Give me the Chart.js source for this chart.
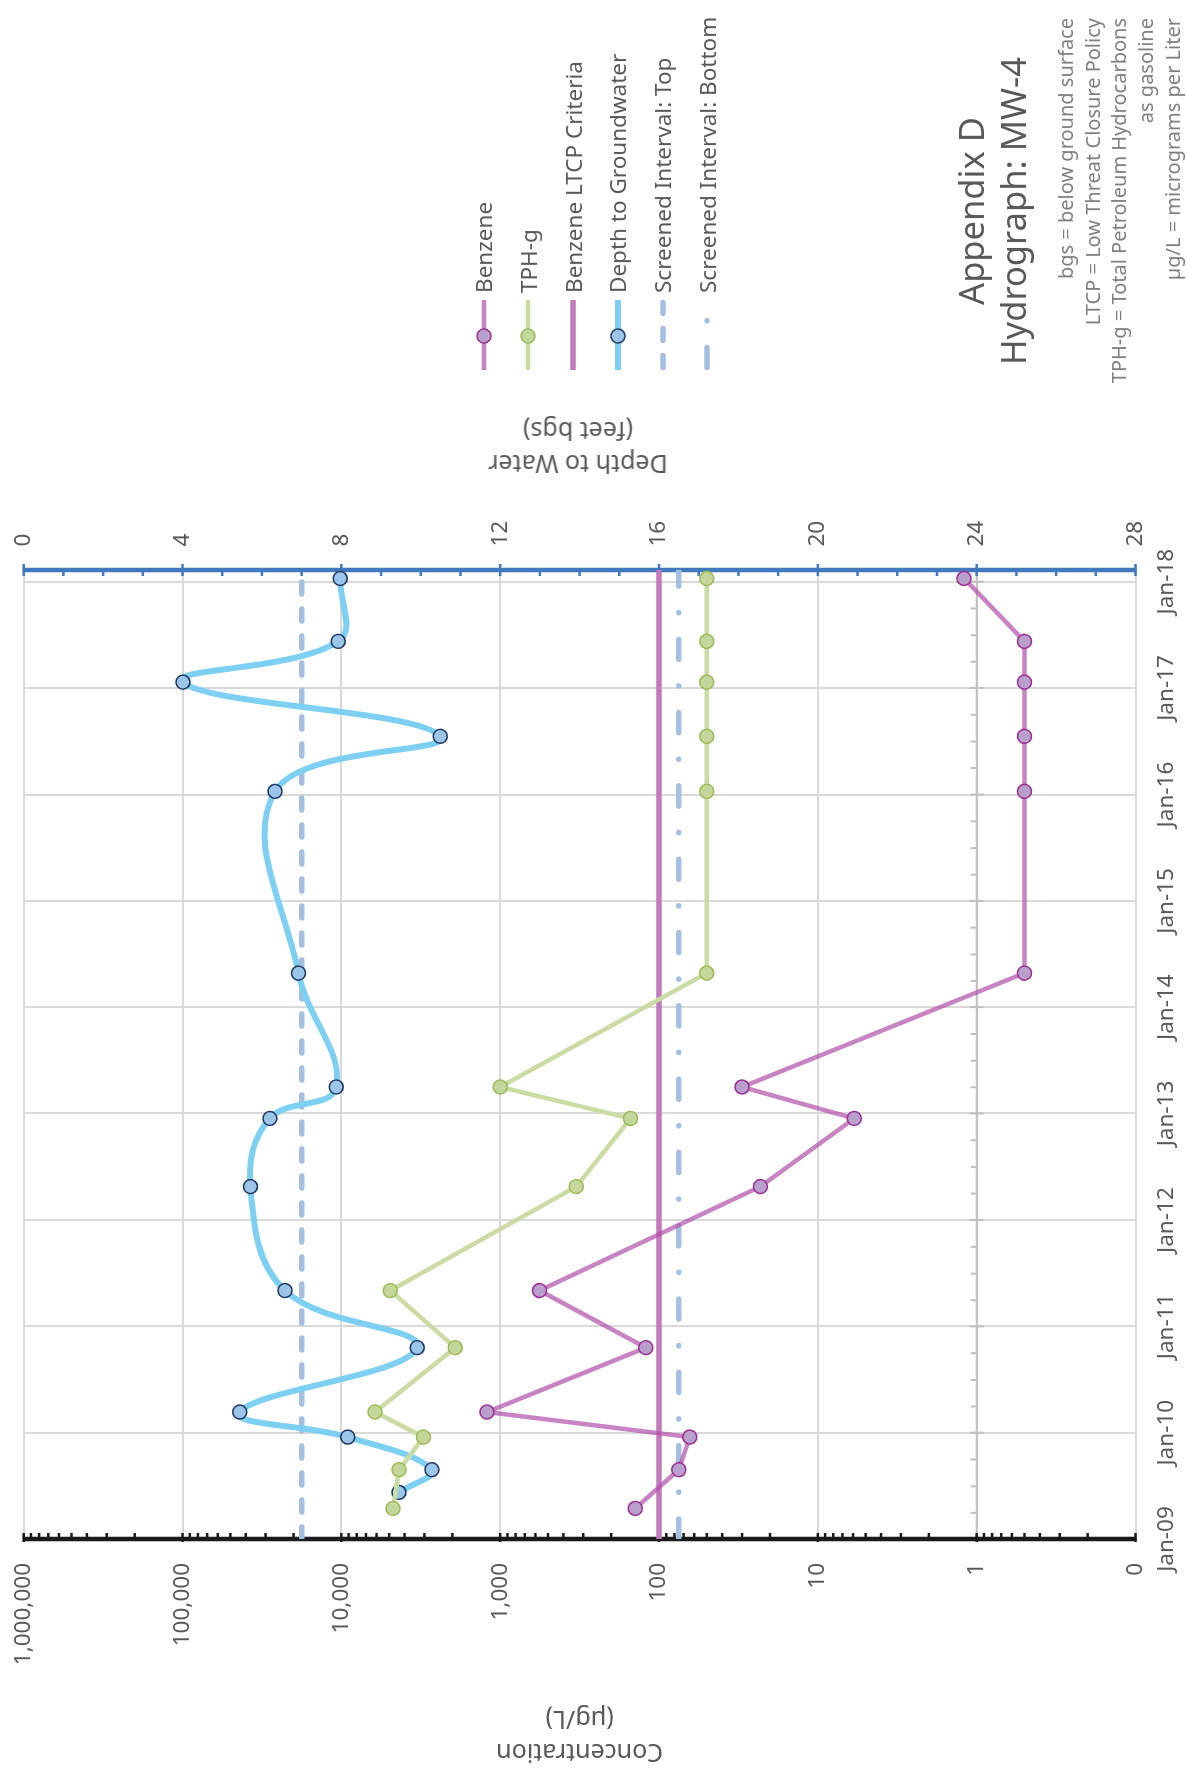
<!DOCTYPE html>
<html>
<head>
<meta charset="utf-8">
<script src="https://cdn.jsdelivr.net/npm/chart.js@4.4.0/dist/chart.umd.min.js"></script>
<style>
  html, body { margin: 0; padding: 0; background: #fff; }
  body { width: 1187px; height: 1776px; overflow: hidden; position: relative; font-family: 'Noto Sans', sans-serif; }
  /* the chart is laid out landscape and turned a quarter turn counter-clockwise */
  #sheet { position: absolute; left: 0; top: 0; width: 1776px; height: 1187px; background: #fff;
           transform-origin: 0 0; transform: translateY(1776px) rotate(-90deg); }
  #sheet canvas { position: absolute; left: 0; top: 0; }
  .axis-title { position: absolute; color: #595959; font-size: 25px; line-height: 33px; text-align: center;
                white-space: nowrap; transform: translate(-50%, -50%) rotate(-90deg); }
  .legend-item { position: absolute; left: 1406px; height: 44px; display: flex; align-items: center;
                 color: #595959; font-size: 22.5px; white-space: nowrap; }
  .legend-item svg { width: 70px; height: 44px; margin-right: 7px; flex: none; }
  #title { position: absolute; left: 1365px; width: 400px; top: 950px; text-align: center; color: #595959;
           font-size: 34.5px; line-height: 42px; white-space: nowrap; }
  #notes { position: absolute; right: 18px; top: 1053px; text-align: right; color: #7f7f7f;
           font-size: 20px; line-height: 26.7px; white-space: nowrap; }
</style>
</head>
<body>
<div id="sheet">
  <canvas id="chart" width="1776" height="1187"></canvas>
  <div class="axis-title" style="left:1328px; top:578px;">Depth to Water<br>(feet bgs)</div>
  <div id="legend"></div>
  <div id="title">Appendix D<br>Hydrograph: MW-4</div>
  <div id="notes">bgs = below ground surface<br>LTCP = Low Threat Closure Policy<br>TPH-g = Total Petroleum Hydrocarbons<br>as gasoline<br>µg/L = micrograms per Liter</div>
</div>
<script>
// sampling events (concentrations) and gauging events (depth to water)
const sampleDates = ['2009-04-16', '2009-08-27', '2009-12-17', '2010-03-13', '2010-10-20', '2011-05-04',
  '2012-04-25', '2012-12-15', '2013-04-02', '2014-04-28', '2016-01-12', '2016-07-19', '2017-01-21',
  '2017-06-10', '2018-01-12'];
const benzene = [141, 75, 64, 1210, 121, 565, 23, 5.9, 30, 0.5, 0.5, 0.5, 0.5, 0.5, 1.2];
const tphg = [4730, 4330, 3040, 6140, 1920, 4920, 332, 151, 1000, 50, 50, 50, 50, 50, 50];

const gaugeDates = ['2009-06-10', '2009-08-27', '2009-12-17', '2010-03-13', '2010-10-20', '2011-05-04',
  '2012-04-25', '2012-12-15', '2013-04-02', '2014-04-28', '2016-01-12', '2016-07-19', '2017-01-21',
  '2017-06-10', '2018-01-12'];
const depthToWater = [9.45, 10.28, 8.16, 5.44, 9.91, 6.58, 5.71, 6.20, 7.87, 6.92, 6.33, 10.49, 4.01, 7.92, 7.97];

const ltcpBenzene = 100;     // µg/L
const screenTop = 7;         // feet bgs
const screenBottom = 16.5;   // feet bgs

const dateMin = '2009-01-01';
const dateMax = '2018-02-10';
const yearTicks = [2009, 2010, 2011, 2012, 2013, 2014, 2015, 2016, 2017, 2018];
const monthNames = ['Jan', 'Feb', 'Mar', 'Apr', 'May', 'Jun', 'Jul', 'Aug', 'Sep', 'Oct', 'Nov', 'Dec'];
const concTicks = [0.1, 1, 10, 100, 1000, 10000, 100000, 1000000];
const concLabels = ['0', '1', '10', '100', '1,000', '10,000', '100,000', '1,000,000'];
const depthMax = 28;

const t0 = Date.parse(dateMin), t1 = Date.parse(dateMax);
const pts = (dates, vals) => dates.map((d, i) => ({ x: Date.parse(d), y: vals[i] }));
const flat = v => [{ x: t0, y: v }, { x: t1, y: v }];

const C = {
  benzLine: 'rgba(177, 79, 168, 0.7)', benzFill: '#B9A0CC', benzEdge: '#9C2E93',
  tphLine: '#CADCA4', tphFill: '#C4D79B', tphEdge: '#9BBB59',
  ltcp: '#C27BBA',
  dtw: '#7DD0F1', dtwFill: '#9CC5EA', dtwEdge: '#1F3864',
  screen: '#A4BFE0',
  grid: '#D9D9D9', text: '#595959'
};
const dashTop = [12, 15];
const dashBottom = [20, 26.7, 0.1, 26.5];

Chart.defaults.font.family = "'Noto Sans', sans-serif";
Chart.defaults.color = C.text;

// keep the plot box where the layout padding puts it
const noEdgePadding = s => { s.paddingTop = 0; s.paddingBottom = 0; };

const axisMarks = {
  id: 'axisMarks',
  beforeDatasetsDraw(chart) {
    const { ctx, chartArea: a, scales } = chart;
    const conc = scales.y, depth = scales.y2, time = scales.x;
    const seg = (x1, y1, x2, y2) => { ctx.beginPath(); ctx.moveTo(x1, y1); ctx.lineTo(x2, y2); ctx.stroke(); };
    ctx.save();

    // date axis crosses the concentration axis at 1
    const yc = conc.getPixelForValue(1);
    ctx.strokeStyle = '#BFBFBF';
    ctx.lineWidth = 2;
    seg(a.left, yc, a.right, yc);
    yearTicks.forEach(yr => {
      for (let q = 0; q < 4; q++) {
        const px = time.getPixelForValue(Date.UTC(yr, q * 3, 1));
        if (px > a.right + 1) continue;
        if (q === 0) seg(px, yc - 7, px, yc + 7);
        else seg(px, yc - 6, px, yc);
      }
    });

    // concentration axis, log minor ticks inside
    ctx.strokeStyle = '#1A1A1A';
    ctx.lineWidth = 2.5;
    for (let e = -1; e < 6; e++) {
      for (let m = 1; m < 10; m++) {
        const py = conc.getPixelForValue(m * Math.pow(10, e));
        seg(a.left - (m === 1 ? 3 : 0), py, a.left + 6, py);
      }
    }
    seg(a.left - 3, a.top, a.left + 6, a.top);
    ctx.lineWidth = 4.5;
    seg(a.left, a.top - 1, a.left, a.bottom + 1);

    // depth axis, major every 4 ft and minor every foot
    ctx.strokeStyle = '#4279BE';
    ctx.lineWidth = 2.5;
    for (let d = 0; d <= depthMax; d++) {
      const py = depth.getPixelForValue(d);
      if (d % 4 === 0) seg(a.right - 6, py, a.right + 6, py);
      else seg(a.right - 6, py, a.right, py);
    }
    ctx.lineWidth = 4.5;
    seg(a.right, a.top - 1, a.right, a.bottom + 1);
    ctx.restore();
  }
};

const datasets = [
  {
    label: 'Benzene', yAxisID: 'y', data: pts(sampleDates, benzene),
    borderColor: C.benzLine, borderWidth: 4.5, tension: 0,
    pointRadius: 7, pointBorderWidth: 1.5, pointBackgroundColor: C.benzFill, pointBorderColor: C.benzEdge
  },
  {
    label: 'TPH-g', yAxisID: 'y', data: pts(sampleDates, tphg),
    borderColor: C.tphLine, borderWidth: 4.5, tension: 0,
    pointRadius: 7, pointBorderWidth: 1.5, pointBackgroundColor: C.tphFill, pointBorderColor: C.tphEdge
  },
  {
    label: 'Benzene LTCP Criteria', yAxisID: 'y', data: flat(ltcpBenzene),
    borderColor: C.ltcp, borderWidth: 5.5, pointRadius: 0
  },
  {
    label: 'Depth to Groundwater', yAxisID: 'y2', data: pts(gaugeDates, depthToWater),
    borderColor: C.dtw, borderWidth: 6, tension: 0.4,
    pointRadius: 7, pointBorderWidth: 1.5, pointBackgroundColor: C.dtwFill, pointBorderColor: C.dtwEdge
  },
  {
    label: 'Screened Interval: Top', yAxisID: 'y2', data: flat(screenTop),
    borderColor: C.screen, borderWidth: 5.5, borderDash: dashTop, borderCapStyle: 'round', pointRadius: 0
  },
  {
    label: 'Screened Interval: Bottom', yAxisID: 'y2', data: flat(screenBottom),
    borderColor: C.screen, borderWidth: 5.5, borderDash: dashBottom, borderCapStyle: 'round', pointRadius: 0
  }
];

new Chart(document.getElementById('chart'), {
  type: 'line',
  data: { datasets },
  plugins: [axisMarks],
  options: {
    responsive: false,
    devicePixelRatio: 1,
    animation: false,
    layout: { padding: { left: 0, right: 0, top: 23.7, bottom: 0 } },
    plugins: { legend: { display: false }, tooltip: { enabled: false } },
    scales: {
      x: {
        type: 'linear', position: 'bottom', min: t0, max: t1,
        afterBuildTicks: s => { s.ticks = yearTicks.map(y => ({ value: Date.UTC(y, 0, 1) })); },
        afterFit: s => { s.height = 51.5; },
        ticks: {
          autoSkip: false, maxRotation: 0, padding: 18, color: C.text, font: { size: 22.5 },
          callback: v => { const d = new Date(v); return monthNames[d.getUTCMonth()] + '-' + String(d.getUTCFullYear()).slice(2); }
        },
        grid: { color: C.grid, lineWidth: 2, drawTicks: false },
        border: { display: false }
      },
      y: {
        type: 'logarithmic', position: 'left', min: concTicks[0], max: concTicks[concTicks.length - 1],
        afterBuildTicks: s => { s.ticks = concTicks.map(v => ({ value: v })); },
        afterFit: s => { s.width = 237; noEdgePadding(s); },
        ticks: {
          padding: 24, color: C.text, font: { size: 22.5 },
          callback: v => concLabels[concTicks.indexOf(v)]
        },
        grid: { color: C.grid, lineWidth: 2, drawTicks: false },
        border: { display: false },
        title: {
          display: true, text: ['Concentration', '(µg/L)'], color: C.text,
          font: { size: 25, lineHeight: 1.3 }, padding: { top: 9, bottom: 0 }
        }
      },
      y2: {
        type: 'linear', position: 'right', reverse: true, min: 0, max: depthMax,
        afterFit: s => { s.width = 570; noEdgePadding(s); },
        ticks: { stepSize: 4, padding: 23.5, color: C.text, font: { size: 22.5 } },
        grid: { display: false, drawTicks: false },
        border: { display: false }
      }
    }
  }
});

// legend, drawn from the dataset styles
const legend = document.getElementById('legend');
const symbolFor = ds => {
  const w = ds.borderWidth;
  const dash = ds.borderDash ? ` stroke-dasharray="${ds.borderDash.join(' ')}" stroke-linecap="round"` : '';
  const x0 = ds.borderDash ? 2.5 : 0, x1 = ds.borderDash ? 67.5 : 70;
  let svg = `<svg viewBox="0 0 70 44"><line x1="${x0}" y1="22" x2="${x1}" y2="22" stroke="${ds.borderColor}" stroke-width="${w}"${dash}/>`;
  if (ds.pointRadius) svg += `<circle cx="34" cy="22" r="${ds.pointRadius}" fill="${ds.pointBackgroundColor}" stroke="${ds.pointBorderColor}" stroke-width="${ds.pointBorderWidth}"/>`;
  return svg + '</svg>';
};
datasets.forEach((ds, i) => {
  const item = document.createElement('div');
  item.className = 'legend-item';
  item.style.top = (483.7 + i * 44.7 - 22) + 'px';
  item.innerHTML = symbolFor(ds) + '<span>' + ds.label + '</span>';
  legend.appendChild(item);
});
</script>
</body>
</html>
